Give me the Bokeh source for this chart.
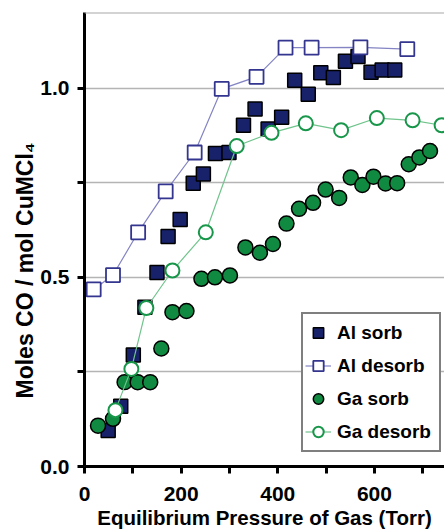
from bokeh.plotting import figure
from bokeh.models import Range1d, FixedTicker, Legend, LegendItem, Span, Title
from bokeh.embed import file_html
from bokeh.resources import INLINE

# ---- data ----
al_sorb_x = [49, 75, 101, 125, 150, 173, 198, 225, 246, 271, 299, 329, 353, 380, 408,
             435, 463, 489, 515, 540, 566, 593, 616, 642]
al_sorb_y = [0.095, 0.159, 0.295, 0.421, 0.513, 0.608, 0.653, 0.749, 0.773, 0.827, 0.830,
             0.902, 0.945, 0.892, 0.923, 1.021, 0.984, 1.041, 1.028, 1.071, 1.084, 1.042,
             1.048, 1.048]

al_desorb_x = [19, 59, 111, 168, 228, 284, 356, 416, 470, 571, 668]
al_desorb_y = [0.468, 0.506, 0.619, 0.727, 0.830, 0.998, 1.030, 1.107, 1.107, 1.108, 1.103]

ga_sorb_x = [28, 59, 83, 110, 136, 159, 182, 211, 242, 270, 301, 333, 363, 390, 418, 444,
             473, 499, 527, 551, 575, 598, 623, 647, 671, 693, 715]
ga_sorb_y = [0.108, 0.126, 0.223, 0.223, 0.223, 0.312, 0.408, 0.411, 0.496, 0.500, 0.505,
             0.579, 0.565, 0.588, 0.642, 0.681, 0.697, 0.732, 0.710, 0.764, 0.744, 0.766,
             0.748, 0.749, 0.799, 0.817, 0.834]

ga_desorb_x = [64, 97, 128, 182, 251, 315, 387, 458, 531, 605, 679, 739]
ga_desorb_y = [0.149, 0.258, 0.419, 0.518, 0.619, 0.847, 0.882, 0.907, 0.889, 0.921,
               0.915, 0.902]

series_names = ["Al sorb", "Al desorb", "Ga sorb", "Ga desorb"]

x_ticks = [0, 100, 200, 300, 400, 500, 600, 700]
x_tick_labels = ["0", "", "200", "", "400", "", "600", ""]
y_ticks = [0.0, 0.25, 0.5, 0.75, 1.0]
y_tick_labels = ["0.0", "", "0.5", "", "1.0"]

x_title = "Equilibrium Pressure of Gas (Torr)"
y_title = "Moles CO / mol CuMCl\u2084"

FONT = "Liberation Sans"

p = figure(width=444, height=531, output_backend="svg", toolbar_location=None,
           x_range=Range1d(0, 745), y_range=Range1d(0, 1.2),
           min_border_left=84, min_border_right=0, min_border_top=12,
           min_border_bottom=65)
p.outline_line_color = None
p.background_fill_color = "white"
p.border_fill_color = "white"

# grid
p.xgrid.visible = False
p.ygrid.ticker = FixedTicker(ticks=y_ticks)
p.ygrid.grid_line_color = "#b4b4b4"
p.ygrid.grid_line_width = 1.5
p.add_layout(Span(location=1.2, dimension="width", line_color="#a8a8a8", line_width=2))

# axes
for ax in (p.xaxis[0], p.yaxis[0]):
    ax.axis_line_width = 3
    ax.axis_line_color = "black"
    ax.major_tick_line_width = 3
    ax.major_tick_line_color = "black"
    ax.major_tick_in = 0
    ax.major_tick_out = 7
    ax.minor_tick_line_color = None
    ax.major_label_text_font = FONT
    ax.major_label_text_font_style = "bold"
    ax.major_label_text_font_size = "21px"
    ax.major_label_text_color = "black"

p.xaxis.ticker = FixedTicker(ticks=x_ticks)
p.xaxis.major_label_overrides = {t: l for t, l in zip(x_ticks, x_tick_labels)}
p.xaxis.major_label_standoff = 13
p.xaxis.axis_label = x_title
p.xaxis.axis_label_text_font = FONT
p.xaxis.axis_label_text_font_style = "bold"
p.xaxis.axis_label_text_font_size = "20.5px"
p.xaxis.axis_label_text_color = "black"
p.xaxis.axis_label_standoff = 2

p.yaxis.ticker = FixedTicker(ticks=y_ticks)
p.yaxis.major_label_overrides = {t: l for t, l in zip(y_ticks, y_tick_labels)}
p.yaxis.major_label_standoff = 8

ytitle = Title(text=y_title, align="left", offset=68, standoff=0,
               text_font=FONT, text_font_style="bold", text_font_size="23px",
               text_color="black")
p.add_layout(ytitle, "left")

# series
r_al_sorb = p.scatter(al_sorb_x, al_sorb_y, marker="square", size=14,
                      fill_color="#17226b", line_color="black", line_width=1.5)
r_ga_sorb = p.scatter(ga_sorb_x, ga_sorb_y, marker="circle", size=15,
                      fill_color="#108a40", line_color="black", line_width=1.5)
l_al_des = p.line(al_desorb_x, al_desorb_y, line_color="#8484c4", line_width=1.2)
r_al_des = p.scatter(al_desorb_x, al_desorb_y, marker="square", size=14,
                     fill_color="white", line_color="#33358f", line_width=1.8)
l_ga_des = p.line(ga_desorb_x, ga_desorb_y, line_color="#70c48c", line_width=1.2)
r_ga_des = p.scatter(ga_desorb_x, ga_desorb_y, marker="circle", size=14,
                     fill_color="white", line_color="#18964a", line_width=2)

legend = Legend(items=[
    LegendItem(label=series_names[0], renderers=[r_al_sorb]),
    LegendItem(label=series_names[1], renderers=[l_al_des, r_al_des]),
    LegendItem(label=series_names[2], renderers=[r_ga_sorb]),
    LegendItem(label=series_names[3], renderers=[l_ga_des, r_ga_des]),
], location=(217, 14))
legend.border_line_color = "black"
legend.border_line_width = 2
legend.background_fill_color = "white"
legend.background_fill_alpha = 1
legend.label_text_font = FONT
legend.label_text_font_style = "bold"
legend.label_text_font_size = "19px"
legend.label_text_color = "black"
legend.glyph_width = 26
legend.glyph_height = 33
legend.label_height = 33
legend.label_width = 100
legend.label_standoff = 6
legend.spacing = 0
legend.padding = 2
legend.margin = 0
p.add_layout(legend)

open("out.html", "w").write(file_html(p, INLINE))
